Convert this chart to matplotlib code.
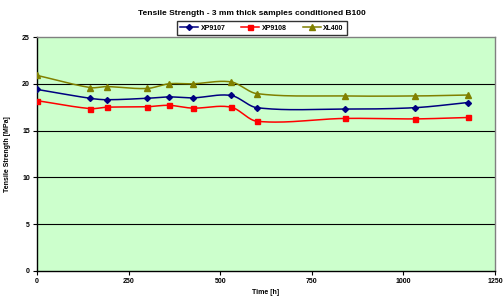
import numpy as np
import matplotlib.pyplot as plt

plt.rcParams['font.family'] = ['Liberation Sans', 'DejaVu Sans']

time_h = [0, 145, 190, 300, 360, 425, 530, 600, 840, 1032, 1176]
xp9107 = [19.4, 18.45, 18.3, 18.45, 18.6, 18.5, 18.75, 17.45, 17.3, 17.45, 18.0]
xp9108 = [18.2, 17.35, 17.5, 17.55, 17.7, 17.4, 17.5, 16.0, 16.3, 16.25, 16.4]
xl400 = [20.9, 19.6, 19.7, 19.5, 20.0, 20.0, 20.2, 18.95, 18.7, 18.7, 18.8]


def smooth(x, y, n=30):
    # cubic Hermite curve through the points, standing in for Excel's smoothed line
    x = np.asarray(x, float)
    y = np.asarray(y, float)
    m = np.gradient(y, x)
    m[1:-1] = (y[2:] - y[:-2]) / (x[2:] - x[:-2])
    xs, ys = [], []
    for i in range(len(x) - 1):
        h = x[i + 1] - x[i]
        t = np.linspace(0, 1, n)
        h00 = 2 * t ** 3 - 3 * t ** 2 + 1
        h10 = t ** 3 - 2 * t ** 2 + t
        h01 = -2 * t ** 3 + 3 * t ** 2
        h11 = t ** 3 - t ** 2
        xs.append(x[i] + t * h)
        ys.append(h00 * y[i] + h10 * h * m[i] + h01 * y[i + 1] + h11 * h * m[i + 1])
    return np.concatenate(xs), np.concatenate(ys)


fig = plt.figure(figsize=(5.03, 2.96), dpi=100)
ax = fig.add_axes([0.0736, 0.0845, 0.9104, 0.7905])
ax.set_facecolor('#CCFFCC')

series = [
    ('XP9107', xp9107, '#000080', 'D', 3.0),
    ('XP9108', xp9108, '#FF0000', 's', 3.6),
    ('XL400', xl400, '#808000', '^', 4.0),
]
for name, vals, col, mk, ms in series:
    sx, sy = smooth(time_h, vals)
    ax.plot(sx, sy, color=col, lw=1.1, zorder=3)
    ax.plot(time_h, vals, ls='none', marker=mk, ms=ms, color=col, zorder=4)
    ax.plot([], [], color=col, lw=1.1, marker=mk, ms=ms, label=name)

ax.set_xlim(0, 1250)
ax.set_ylim(0, 25)
ax.set_xticks([0, 250, 500, 750, 1000, 1250])
ax.set_yticks([0, 5, 10, 15, 20, 25])
for v in [5, 10, 15, 20]:
    ax.axhline(v, color='black', lw=0.8, zorder=1)

for s in ['top', 'right']:
    ax.spines[s].set_color('#808080')
for s in ['left', 'bottom']:
    ax.spines[s].set_color('black')
for s in ax.spines.values():
    s.set_linewidth(1.0)

ax.tick_params(direction='out', length=3, width=0.8, labelsize=5, pad=2)
for lab in ax.get_xticklabels() + ax.get_yticklabels():
    lab.set_fontweight('bold')

ax.set_xlabel('Time [h]', fontsize=5, fontweight='bold', labelpad=3)
ax.set_ylabel('Tensile Strength [MPa]', fontsize=5, fontweight='bold', labelpad=8)

fig.text(0.5, 0.955, 'Tensile Strength - 3 mm thick samples conditioned B100',
         ha='center', va='center', fontsize=6, fontweight='bold')

leg = fig.legend(loc='center', bbox_to_anchor=(0.521, 0.905), ncol=3, frameon=True,
                 fancybox=False, edgecolor='black', prop={'size': 5, 'weight': 'bold'},
                 handlelength=2.6, columnspacing=2.2, borderpad=0.5, handletextpad=0.4)
leg.get_frame().set_linewidth(1.0)

fig.savefig('out.png', dpi=100)
